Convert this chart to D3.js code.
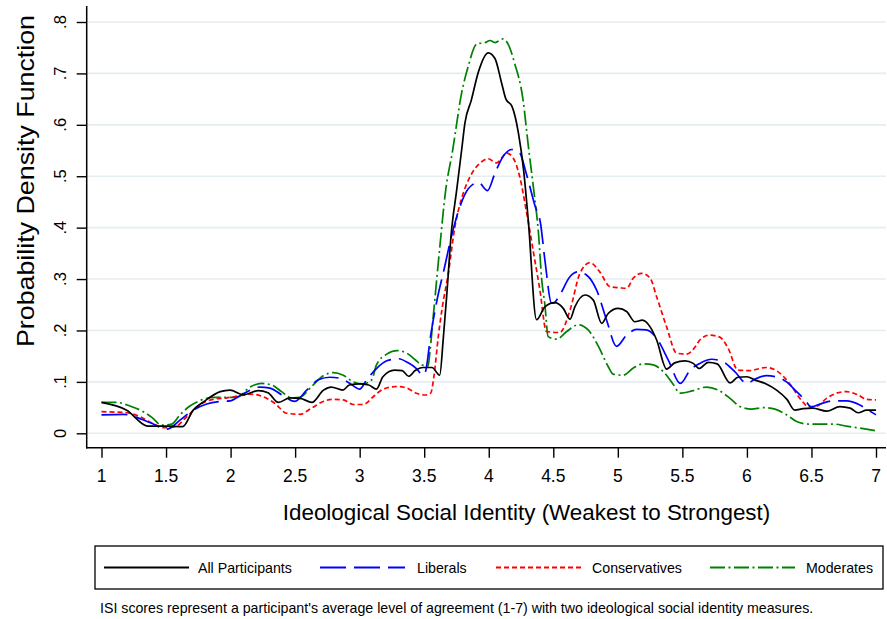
<!DOCTYPE html>
<html><head><meta charset="utf-8">
<script src="https://cdn.jsdelivr.net/npm/d3@7"></script>
<style>
body{margin:0;background:#fff}
svg{display:block}
text{font-family:"Liberation Sans",Arial,Helvetica,sans-serif;fill:#000}
</style>
</head><body>
<svg id="chart" width="887" height="619"></svg>
<script>
// ---------- data ----------
const xTicks = [1,1.5,2,2.5,3,3.5,4,4.5,5,5.5,6,6.5,7];
const xTickLabels = ["1","1.5","2","2.5","3","3.5","4","4.5","5","5.5","6","6.5","7"];
const yTicks = [0,0.1,0.2,0.3,0.4,0.5,0.6,0.7,0.8];
const yTickLabels = ["0",".1",".2",".3",".4",".5",".6",".7",".8"];
const seriesNames = ["All Participants","Liberals","Conservatives","Moderates"];
const seriesColors = ["#000000","#0000ff","#ff0000","#008000"];
const seriesDash = ["none","26,8","5,3","15,3.5,2,3.5"];
const xTitle = "Ideological Social Identity (Weakest to Strongest)";
const yTitle = "Probability Density Function";
const note = "ISI scores represent a participant's average level of agreement (1-7) with two ideological social identity measures.";

const allParticipants = [[1.0,0.060],[1.195,0.045],[1.36,0.014],[1.505,0.014],[1.63,0.013],[1.71,0.045],[1.79,0.061],[1.92,0.081],[1.995,0.084],[2.10,0.075],[2.215,0.083],[2.29,0.079],[2.37,0.060],[2.46,0.069],[2.54,0.068],[2.63,0.060],[2.72,0.084],[2.78,0.090],[2.87,0.084],[2.92,0.094],[3.0,0.096],[3.07,0.094],[3.13,0.086],[3.18,0.110],[3.27,0.123],[3.33,0.122],[3.38,0.111],[3.43,0.122],[3.49,0.128],[3.56,0.128],[3.62,0.113],[3.648,0.185],[3.675,0.27],[3.71,0.39],[3.75,0.47],[3.79,0.551],[3.815,0.603],[3.865,0.648],[3.92,0.703],[3.996,0.740],[4.048,0.729],[4.10,0.681],[4.133,0.650],[4.18,0.636],[4.23,0.584],[4.27,0.512],[4.306,0.415],[4.37,0.221],[4.435,0.246],[4.51,0.254],[4.577,0.243],[4.63,0.222],[4.667,0.246],[4.745,0.269],[4.81,0.259],[4.875,0.214],[4.925,0.233],[5.003,0.243],[5.068,0.237],[5.132,0.217],[5.19,0.220],[5.25,0.207],[5.30,0.182],[5.378,0.125],[5.44,0.137],[5.52,0.141],[5.584,0.136],[5.63,0.126],[5.70,0.138],[5.77,0.135],[5.87,0.098],[5.93,0.109],[6.0,0.110],[6.06,0.104],[6.15,0.096],[6.23,0.084],[6.31,0.066],[6.37,0.045],[6.436,0.048],[6.51,0.049],[6.617,0.043],[6.72,0.052],[6.80,0.049],[6.862,0.040],[6.927,0.045],[7.0,0.045]];

const liberals = [[1.0,0.036],[1.17,0.037],[1.27,0.031],[1.375,0.021],[1.505,0.008],[1.61,0.026],[1.71,0.045],[1.815,0.057],[1.92,0.062],[1.995,0.063],[2.086,0.075],[2.228,0.090],[2.305,0.088],[2.395,0.075],[2.499,0.062],[2.59,0.084],[2.68,0.104],[2.77,0.109],[2.847,0.107],[2.925,0.097],[3.0,0.086],[3.054,0.104],[3.13,0.126],[3.21,0.141],[3.30,0.145],[3.376,0.137],[3.44,0.126],[3.49,0.113],[3.51,0.12],[3.55,0.19],[3.60,0.26],[3.655,0.32],[3.71,0.382],[3.777,0.441],[3.84,0.475],[3.92,0.488],[3.99,0.472],[4.048,0.506],[4.11,0.538],[4.177,0.552],[4.24,0.545],[4.29,0.506],[4.36,0.441],[4.40,0.41],[4.435,0.337],[4.487,0.253],[4.50,0.253],[4.55,0.269],[4.63,0.305],[4.69,0.314],[4.757,0.308],[4.835,0.279],[4.913,0.220],[4.99,0.169],[5.068,0.191],[5.145,0.202],[5.22,0.201],[5.30,0.185],[5.39,0.143],[5.485,0.097],[5.56,0.123],[5.635,0.136],[5.726,0.144],[5.816,0.139],[5.906,0.12],[6.0,0.097],[6.06,0.105],[6.15,0.112],[6.24,0.109],[6.307,0.100],[6.385,0.081],[6.45,0.065],[6.50,0.051],[6.566,0.057],[6.67,0.063],[6.77,0.063],[6.875,0.055],[6.94,0.045],[7.0,0.036]];

const conservatives = [[1.0,0.042],[1.195,0.040],[1.30,0.032],[1.39,0.020],[1.48,0.011],[1.57,0.013],[1.66,0.032],[1.763,0.056],[1.866,0.066],[1.97,0.069],[2.07,0.073],[2.163,0.076],[2.253,0.071],[2.344,0.058],[2.434,0.039],[2.537,0.037],[2.628,0.049],[2.718,0.062],[2.795,0.066],[2.873,0.065],[2.95,0.056],[3.028,0.056],[3.105,0.071],[3.183,0.086],[3.287,0.091],[3.364,0.088],[3.44,0.078],[3.506,0.0745],[3.55,0.078],[3.575,0.11],[3.61,0.19],[3.64,0.245],[3.686,0.31],[3.738,0.402],[3.79,0.457],[3.855,0.499],[3.93,0.525],[3.996,0.534],[4.06,0.526],[4.14,0.545],[4.19,0.535],[4.24,0.499],[4.29,0.434],[4.343,0.357],[4.396,0.279],[4.447,0.198],[4.55,0.196],[4.63,0.24],[4.706,0.311],[4.784,0.332],[4.86,0.314],[4.94,0.285],[5.016,0.283],[5.068,0.282],[5.12,0.302],[5.184,0.311],[5.25,0.302],[5.30,0.266],[5.378,0.207],[5.455,0.156],[5.533,0.154],[5.61,0.172],[5.635,0.1815],[5.71,0.191],[5.79,0.187],[5.855,0.165],[5.93,0.123],[6.02,0.122],[6.15,0.128],[6.24,0.12],[6.33,0.097],[6.42,0.065],[6.475,0.052],[6.54,0.053],[6.617,0.068],[6.694,0.078],[6.77,0.081],[6.862,0.0745],[6.927,0.066],[7.0,0.065]];

const moderates = [[1.0,0.060],[1.118,0.060],[1.22,0.053],[1.324,0.042],[1.39,0.031],[1.465,0.016],[1.544,0.018],[1.608,0.036],[1.685,0.053],[1.776,0.065],[1.866,0.070],[1.97,0.070],[2.047,0.070],[2.15,0.090],[2.24,0.097],[2.318,0.094],[2.395,0.081],[2.473,0.069],[2.537,0.070],[2.628,0.091],[2.718,0.112],[2.795,0.118],[2.873,0.113],[2.95,0.100],[3.028,0.096],[3.093,0.104],[3.13,0.133],[3.21,0.154],[3.287,0.161],[3.364,0.156],[3.43,0.143],[3.48,0.133],[3.53,0.131],[3.545,0.16],[3.57,0.227],[3.62,0.36],[3.665,0.47],[3.72,0.55],[3.79,0.662],[3.84,0.713],[3.906,0.757],[3.97,0.760],[4.01,0.764],[4.048,0.760],[4.11,0.767],[4.15,0.757],[4.20,0.72],[4.266,0.648],[4.306,0.56],[4.35,0.47],[4.385,0.39],[4.41,0.30],[4.435,0.25],[4.46,0.188],[4.526,0.183],[4.604,0.198],[4.693,0.211],[4.77,0.201],[4.85,0.169],[4.925,0.130],[4.964,0.115],[5.04,0.113],[5.12,0.127],[5.197,0.135],[5.275,0.133],[5.352,0.12],[5.43,0.095],[5.48,0.078],[5.584,0.083],[5.688,0.090],[5.778,0.084],[5.869,0.068],[5.946,0.052],[6.036,0.047],[6.126,0.050],[6.217,0.047],[6.307,0.036],[6.385,0.023],[6.475,0.018],[6.566,0.018],[6.67,0.018],[6.77,0.014],[6.875,0.010],[7.0,0.005]];

const seriesData = [allParticipants, liberals, conservatives, moderates];

// ---------- layout ----------
const svg = d3.select("#chart");
const x = d3.scaleLinear().domain([1,7]).range([101.5,876]);
const y = d3.scaleLinear().domain([0,0.8]).range([433.3,22]);
const axisX = 86.7, axisY = 447.7, plotRight = 886, plotTop = 6;

// gridlines
svg.append("g").selectAll("line").data(yTicks).join("line")
  .attr("x1", axisX).attr("x2", plotRight)
  .attr("y1", d=>y(d)).attr("y2", d=>y(d))
  .attr("stroke","#e4edf0").attr("stroke-width",1.6);

// y axis
const yAxis = d3.axisLeft(y).tickValues(yTicks).tickFormat((d,i)=>yTickLabels[i]).tickSize(10).tickSizeOuter(0);
const gy = svg.append("g").attr("transform",`translate(${axisX},0)`).call(yAxis);
gy.select(".domain").remove();
gy.selectAll(".tick line").attr("stroke","#000").attr("stroke-width",1.4);
gy.selectAll(".tick text").remove();
svg.append("line").attr("x1",axisX).attr("x2",axisX).attr("y1",plotTop).attr("y2",axisY+0.7)
  .attr("stroke","#000").attr("stroke-width",1.5);
svg.append("g").selectAll("text").data(yTicks).join("text")
  .attr("transform",(d)=>`translate(66,${y(d)}) rotate(-90)`)
  .attr("text-anchor","middle").attr("font-size",16.5)
  .text((d,i)=>yTickLabels[i]);

// x axis
const xAxis = d3.axisBottom(x).tickValues(xTicks).tickFormat((d,i)=>xTickLabels[i]).tickSize(10).tickSizeOuter(0);
const gx = svg.append("g").attr("transform",`translate(0,${axisY})`).call(xAxis);
gx.select(".domain").remove();
gx.selectAll(".tick line").attr("stroke","#000").attr("stroke-width",1.4);
gx.selectAll(".tick text").remove();
svg.append("line").attr("x1",axisX-0.7).attr("x2",plotRight).attr("y1",axisY).attr("y2",axisY)
  .attr("stroke","#000").attr("stroke-width",1.5);
svg.append("g").selectAll("text").data(xTicks).join("text")
  .attr("x",d=>x(d)).attr("y",481.7)
  .attr("text-anchor","middle").attr("font-size",17.5)
  .text((d,i)=>xTickLabels[i]);

// axis titles
svg.append("text").attr("x",526.5).attr("y",520).attr("text-anchor","middle")
  .attr("font-size",22.4).text(xTitle);
svg.append("text").attr("transform","translate(34,181) rotate(-90)")
  .attr("text-anchor","middle").attr("font-size",24)
  .attr("textLength",332).attr("lengthAdjust","spacingAndGlyphs")
  .text(yTitle);

// lines
const line = d3.line().x(d=>x(d[0])).y(d=>y(d[1])).curve(d3.curveMonotoneX);
const drawOrder = [3,2,1,0];
drawOrder.forEach(i=>{
  svg.append("path").datum(seriesData[i])
    .attr("fill","none").attr("stroke",seriesColors[i]).attr("stroke-width",1.7)
    .attr("stroke-dasharray",seriesDash[i]).attr("stroke-linejoin","round")
    .attr("d",line);
});

// legend
svg.append("rect").attr("x",95).attr("y",546).attr("width",788).attr("height",43)
  .attr("fill","#fff").attr("stroke","#000").attr("stroke-width",1.3);
const legLineStart = [104,320,496,710];
const legTextStart = [198,417,592,806];
seriesNames.forEach((n,i)=>{
  svg.append("line").attr("x1",legLineStart[i]).attr("x2",legLineStart[i]+85)
    .attr("y1",567.5).attr("y2",567.5)
    .attr("stroke",seriesColors[i]).attr("stroke-width",1.8)
    .attr("stroke-dasharray",seriesDash[i]);
  svg.append("text").attr("x",legTextStart[i]).attr("y",573)
    .attr("font-size",14.2).text(n);
});

// note
svg.append("text").attr("x",100).attr("y",613).attr("font-size",14.2).text(note);
</script>
</body></html>
